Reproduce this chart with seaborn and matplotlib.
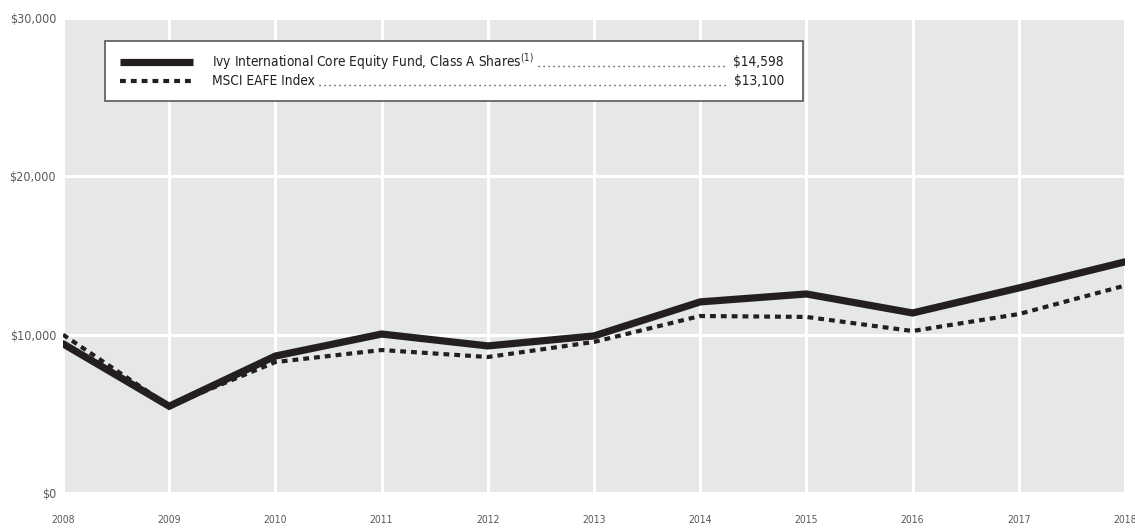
import pandas as pd
import matplotlib
matplotlib.use('Agg')
import matplotlib.pyplot as plt
import seaborn as sns
from matplotlib.patches import Rectangle
from matplotlib.lines import Line2D
from matplotlib.ticker import FuncFormatter

# values
years = [2008, 2009, 2010, 2011, 2012, 2013, 2014, 2015, 2016, 2017, 2018]
fund = [9425, 5480, 8650, 10040, 9290, 9920, 12070, 12570, 11370, 12950, 14598]
index = [10000, 5500, 8270, 9030, 8590, 9540, 11180, 11120, 10230, 11300, 13100]

fund_label = 'Ivy International Core Equity Fund, Class A Shares'
index_label = 'MSCI EAFE Index'
fund_end = '$14,598'
index_end = '$13,100'

df = pd.DataFrame({'Year': years, 'Fund': fund, 'Index': index})

sns.set_style('white')
plt.rcParams['font.family'] = ['DejaVu Sans']
plt.rcParams['font.stretch'] = 'condensed'

fig = plt.figure(figsize=(11.35, 5.31), dpi=100)
ax = fig.add_axes([63 / 1135, 38 / 531, 1062 / 1135, 475 / 531])
ax.set_facecolor('#e6e7e8')

sns.lineplot(data=df, x='Year', y='Index', ax=ax, color='#231f20', lw=3,
             zorder=3)
ax.lines[-1].set_dashes([1.4, 1.2])
sns.lineplot(data=df, x='Year', y='Fund', ax=ax, color='#231f20', lw=5.2,
             solid_joinstyle='miter', zorder=4)

ax.set_xlim(2008, 2018)
ax.set_ylim(0, 30000)
ax.set_xticks(years)
ax.set_yticks([0, 10000, 20000, 30000])
ax.yaxis.set_major_formatter(FuncFormatter(lambda v, p: f'${v:,.0f}'))
ax.grid(True, color='white', lw=2.2)
ax.set_axisbelow(True)
for s in ax.spines.values():
    s.set_visible(False)
ax.tick_params(axis='y', length=0, pad=5, labelsize=9, labelcolor='#58595b')
ax.tick_params(axis='x', length=0, pad=16, labelsize=7.5, labelcolor='#58595b')
ax.set_xlabel('')
ax.set_ylabel('')

# legend box with dotted leaders
W, H = 1062, 475
def ax_x(px):
    return (px - 63) / W
def ax_y(py):
    return (493 - py) / H

ax.add_patch(Rectangle((ax_x(105), ax_y(101)), ax_x(803) - ax_x(105),
                       ax_y(41) - ax_y(101), transform=ax.transAxes,
                       facecolor='white', edgecolor='#58595b', lw=1.2,
                       zorder=6))
rows = [(fund_label, fund_end, 62, dict(lw=5.2)),
        (index_label, index_end, 81, dict(lw=3, dashes=[1.4, 1.2]))]
fig.canvas.draw()
rend = fig.canvas.get_renderer()
for label, end, py, style in rows:
    ax.add_line(Line2D([ax_x(120), ax_x(193)], [ax_y(py), ax_y(py)],
                       transform=ax.transAxes, color='#231f20', zorder=7,
                       solid_capstyle='butt', dash_capstyle='butt', **style))
    txt = label + ('$^{(1)}$' if label == fund_label else '')
    t = ax.text(ax_x(212), ax_y(py), txt, transform=ax.transAxes,
                fontsize=9.8, color='#231f20', va='center', ha='left',
                zorder=7)
    v = ax.text(ax_x(784), ax_y(py), end, transform=ax.transAxes,
                fontsize=9.8, color='#231f20', va='center', ha='right',
                zorder=7)
    bb = t.get_window_extent(rend)
    bv = v.get_window_extent(rend)
    x0 = ax.transAxes.inverted().transform((bb.x1 + 4, 0))[0]
    x1 = ax.transAxes.inverted().transform((bv.x0 - 8, 0))[0]
    ax.add_line(Line2D([x0, x1], [ax_y(py + 4), ax_y(py + 4)],
                       transform=ax.transAxes, color='#231f20', lw=1.0,
                       dashes=[0.8, 2.8], zorder=7))

fig.savefig('out.png', dpi=100)
